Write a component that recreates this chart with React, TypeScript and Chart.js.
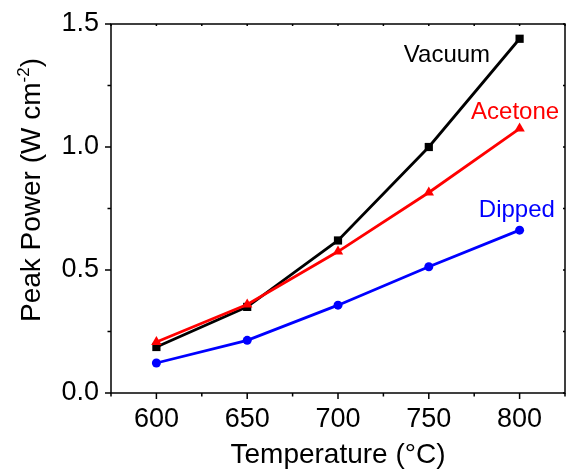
import React, { useEffect, useRef } from "react";
import { Chart, registerables } from "chart.js";

Chart.register(...registerables);

const temperatures = [600, 650, 700, 750, 800];
const vacuum = [0.187, 0.35, 0.62, 1.0, 1.44];
const acetone = [0.207, 0.36, 0.575, 0.815, 1.075];
const dipped = [0.122, 0.214, 0.357, 0.513, 0.662];

const seriesNames = ["Vacuum", "Acetone", "Dipped"];
const seriesColors = ["#000000", "#ff0000", "#0000ff"];
// label anchor positions in data units
const labelX = [760, 797.5, 798.5];
const labelY = [1.374, 1.142, 0.743];

const xMin = 575;
const xMax = 825;
const xStep = 25;
const yMin = 0;
const yMax = 1.5;
const yStep = 0.25;

const xTitle = "Temperature (°C)";
const yTitleMain = "Peak Power (W cm";
const yTitleSup = "-2";
const yTitleEnd = ")";

const FONT = "'Liberation Sans', Arial, Helvetica, sans-serif";

const framePlugin = {
  id: "framePlugin",
  afterDraw(chart: any) {
    const ctx = chart.ctx;
    const { left, right, top, bottom } = chart.chartArea;
    const xs = chart.scales.x;
    const ys = chart.scales.y;
    ctx.save();
    ctx.strokeStyle = "#000";
    ctx.lineWidth = 1.5;
    ctx.strokeRect(left, top, right - left, bottom - top);

    // x ticks
    for (let v = xMin; v <= xMax + 0.001; v += xStep) {
      const px = xs.getPixelForValue(v);
      const major = Math.abs(v % 50) < 0.001;
      ctx.beginPath();
      ctx.moveTo(px, bottom);
      ctx.lineTo(px, bottom + (major ? 6 : 3.5));
      ctx.moveTo(px, top);
      ctx.lineTo(px, top + 2);
      ctx.stroke();
    }
    // y ticks
    for (let v = yMin; v <= yMax + 0.001; v += yStep) {
      const py = ys.getPixelForValue(v);
      const major = Math.abs((v * 2) - Math.round(v * 2)) < 0.001;
      ctx.beginPath();
      ctx.moveTo(left, py);
      ctx.lineTo(left - (major ? 6 : 3.5), py);
      ctx.moveTo(right, py);
      ctx.lineTo(right - 2, py);
      ctx.stroke();
    }

    // x title
    ctx.fillStyle = "#000";
    ctx.font = `28px ${FONT}`;
    ctx.textAlign = "center";
    ctx.textBaseline = "alphabetic";
    ctx.fillText(xTitle, (left + right) / 2, 463);

    // y title with superscript
    ctx.save();
    ctx.translate(40, 190);
    ctx.rotate(-Math.PI / 2);
    ctx.textAlign = "left";
    ctx.font = `28px ${FONT}`;
    const w1 = ctx.measureText(yTitleMain).width;
    const w3 = ctx.measureText(yTitleEnd).width;
    ctx.font = `17px ${FONT}`;
    const w2 = ctx.measureText(yTitleSup).width;
    let x0 = -(w1 + w2 + w3) / 2;
    ctx.font = `28px ${FONT}`;
    ctx.fillText(yTitleMain, x0, 0);
    x0 += w1;
    ctx.font = `17px ${FONT}`;
    ctx.fillText(yTitleSup, x0, -11);
    x0 += w2;
    ctx.font = `28px ${FONT}`;
    ctx.fillText(yTitleEnd, x0, 0);
    ctx.restore();

    // series labels
    ctx.font = `24px ${FONT}`;
    ctx.textAlign = "center";
    ctx.textBaseline = "middle";
    for (let i = 0; i < seriesNames.length; i++) {
      ctx.fillStyle = seriesColors[i];
      ctx.fillText(seriesNames[i], xs.getPixelForValue(labelX[i]), ys.getPixelForValue(labelY[i]));
    }
    ctx.restore();
  },
};

export default function App() {
  const ref = useRef<HTMLCanvasElement>(null);
  useEffect(() => {
    document.body.style.margin = "0";
    const mk = (vals: number[]) => temperatures.map((t, i) => ({ x: t, y: vals[i] }));
    const chart = new Chart(ref.current as HTMLCanvasElement, {
      type: "line",
      data: {
        datasets: [
          {
            label: "Dipped",
            data: mk(dipped),
            borderColor: seriesColors[2],
            backgroundColor: seriesColors[2],
            borderWidth: 2.8,
            pointStyle: "circle",
            pointRadius: 4.5,
            pointBorderWidth: 0,
            tension: 0,
          },
          {
            label: "Acetone",
            data: mk(acetone),
            borderColor: seriesColors[1],
            backgroundColor: seriesColors[1],
            borderWidth: 2.8,
            pointStyle: "triangle",
            pointRadius: 6,
            pointBorderWidth: 0,
            tension: 0,
          },
          {
            label: "Vacuum",
            data: mk(vacuum),
            borderColor: seriesColors[0],
            backgroundColor: seriesColors[0],
            borderWidth: 2.8,
            pointStyle: "rect",
            pointRadius: 5.8,
            pointBorderWidth: 0,
            tension: 0,
          },
        ],
      },
      options: {
        animation: false,
        responsive: false,
        devicePixelRatio: 1,
        layout: { padding: { top: 24, right: 2, left: 0, bottom: 0 } },
        plugins: { legend: { display: false }, tooltip: { enabled: false } },
        scales: {
          x: {
            type: "linear",
            min: xMin,
            max: xMax,
            afterFit: (s: any) => { s.height = 80; },
            grid: { display: true, drawOnChartArea: false, drawTicks: true, tickLength: 8, color: "transparent" },
            border: { display: false },
            ticks: {
              stepSize: xStep,
              autoSkip: false,
              maxRotation: 0,
              padding: 2,
              color: "#000",
              font: { family: FONT, size: 27 },
              callback: (v: any) => (Math.abs(v % 50) < 0.001 ? String(v) : ""),
            },
          },
          y: {
            type: "linear",
            min: yMin,
            max: yMax,
            afterFit: (s: any) => { s.width = 111; },
            grid: { display: true, drawOnChartArea: false, drawTicks: true, tickLength: 6, color: "transparent" },
            border: { display: false },
            ticks: {
              stepSize: yStep,
              autoSkip: false,
              padding: 6,
              color: "#000",
              font: { family: FONT, size: 27 },
              callback: (v: any) => {
                const n = Number(v);
                return Math.abs(n * 2 - Math.round(n * 2)) < 0.001 ? n.toFixed(1) : "";
              },
            },
          },
        },
      },
      plugins: [framePlugin],
    } as any);
    return () => chart.destroy();
  }, []);
  return <canvas ref={ref} width={571} height={473} style={{ display: "block" }} />;
}
